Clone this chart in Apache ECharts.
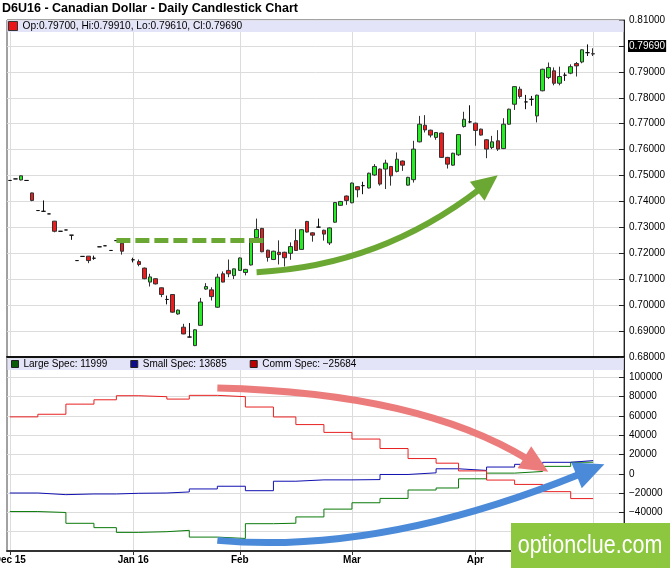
<!DOCTYPE html>
<html><head><meta charset="utf-8">
<script src="https://cdn.jsdelivr.net/npm/echarts@6/dist/echarts.min.js"></script>
<style>html,body{margin:0;padding:0;background:#fff}#c{width:670px;height:568px}</style>
</head><body><div id="c"></div><script>
// ---------- data ----------
const dates = [
'2015-12-01','2015-12-02','2015-12-03','2015-12-04','2015-12-07','2015-12-08','2015-12-09','2015-12-10','2015-12-11','2015-12-14','2015-12-15','2015-12-16','2015-12-17','2015-12-18','2015-12-21','2015-12-22','2015-12-23','2015-12-24','2015-12-28','2015-12-29','2015-12-30','2015-12-31',
'2016-01-04','2016-01-05','2016-01-06','2016-01-07','2016-01-08','2016-01-11','2016-01-12','2016-01-13','2016-01-14','2016-01-15','2016-01-19','2016-01-20','2016-01-21','2016-01-22','2016-01-25','2016-01-26','2016-01-27','2016-01-28','2016-01-29',
'2016-02-01','2016-02-02','2016-02-03','2016-02-04','2016-02-05','2016-02-08','2016-02-09','2016-02-10','2016-02-11','2016-02-12','2016-02-16','2016-02-17','2016-02-18','2016-02-19','2016-02-22','2016-02-23','2016-02-24','2016-02-25','2016-02-26','2016-02-29',
'2016-03-01','2016-03-02','2016-03-03','2016-03-04','2016-03-07','2016-03-08','2016-03-09','2016-03-10','2016-03-11','2016-03-14','2016-03-15','2016-03-16','2016-03-17','2016-03-18','2016-03-21','2016-03-22','2016-03-23','2016-03-24','2016-03-28','2016-03-29','2016-03-30','2016-03-31',
'2016-04-01','2016-04-04','2016-04-05','2016-04-06','2016-04-07','2016-04-08','2016-04-11','2016-04-12','2016-04-13','2016-04-14','2016-04-15','2016-04-18','2016-04-19','2016-04-20','2016-04-21','2016-04-22','2016-04-25','2016-04-26','2016-04-27','2016-04-28','2016-04-29',
'2016-05-02','2016-05-03','2016-05-04','2016-05-05','2016-05-06','2016-05-09'];

// [open, high, low, close] per trading day (null = no trade)
const ohlc = [
[0.7481,0.7482,0.7480,0.7481],[0.7487,0.7487,0.7487,0.7487],[0.7483,0.7500,0.7481,0.7499],[0.7481,0.7481,0.7480,0.7481],
[0.7433,0.7434,0.7401,0.7404],[0.7365,0.7365,0.7365,0.7365],[0.7362,0.7404,0.7360,0.7362],[0.7352,0.7352,0.7352,0.7352],
[0.7324,0.7325,0.7281,0.7285],[0.7285,0.7285,0.7285,0.7285],[0.7290,0.7290,0.7290,0.7290],[0.7270,0.7270,0.7252,0.7270],
[0.7172,0.7172,0.7172,0.7172],[0.7188,0.7188,0.7188,0.7188],[0.7189,0.7189,0.7162,0.7172],[0.7181,0.7191,0.7175,0.7181],
[0.7225,0.7225,0.7225,0.7225],[0.7229,0.7229,0.7229,0.7229],[0.7211,0.7211,0.7211,0.7211],[0.7249,0.7249,0.7249,0.7249],
[0.7239,0.7240,0.7195,0.7208],null,
[0.7175,0.7183,0.7165,0.7175],[0.7168,0.7176,0.7150,0.7157],[0.7143,0.7145,0.7100,0.7102],[0.7089,0.7121,0.7072,0.7109],
[0.7102,0.7104,0.7080,0.7082],[0.7067,0.7068,0.7031,0.7041],[0.7022,0.7037,0.7003,0.7022],[0.7041,0.7043,0.6971,0.6973],
[0.6966,0.6983,0.6963,0.6981],[0.6915,0.6928,0.6888,0.6889],[0.6877,0.6931,0.6876,0.6877],[0.6844,0.6907,0.6842,0.6905],
[0.6922,0.7028,0.6921,0.7012],[0.7062,0.7085,0.7059,0.7072],[0.7059,0.7069,0.7018,0.7033],[0.6992,0.7121,0.6990,0.7108],
[0.7121,0.7130,0.7088,0.7089],[0.7134,0.7176,0.7108,0.7121],[0.7114,0.7141,0.7101,0.7140],
[0.7134,0.7184,0.7132,0.7182],[0.7126,0.7140,0.7115,0.7138],[0.7155,0.7259,0.7153,0.7257],[0.7260,0.7334,0.7258,0.7292],
[0.7296,0.7298,0.7204,0.7206],[0.7212,0.7214,0.7168,0.7184],[0.7176,0.7210,0.7174,0.7208],[0.7204,0.7250,0.7157,0.7195],
[0.7204,0.7206,0.7149,0.7183],[0.7200,0.7242,0.7175,0.7226],[0.7249,0.7294,0.7209,0.7211],[0.7215,0.7293,0.7213,0.7291],
[0.7323,0.7325,0.7280,0.7282],[0.7279,0.7281,0.7245,0.7270],[0.7301,0.7334,0.7299,0.7301],[0.7289,0.7291,0.7249,0.7274],
[0.7240,0.7300,0.7232,0.7298],[0.7320,0.7398,0.7318,0.7396],[0.7385,0.7402,0.7383,0.7400],[0.7421,0.7423,0.7387,0.7404],
[0.7395,0.7473,0.7393,0.7471],[0.7457,0.7459,0.7416,0.7445],[0.7461,0.7476,0.7428,0.7461],[0.7452,0.7511,0.7450,0.7509],
[0.7502,0.7544,0.7499,0.7535],[0.7525,0.7527,0.7461,0.7467],[0.7525,0.7561,0.7448,0.7548],[0.7535,0.7537,0.7461,0.7499],
[0.7516,0.7589,0.7512,0.7563],[0.7556,0.7558,0.7518,0.7540],[0.7463,0.7495,0.7461,0.7493],[0.7484,0.7634,0.7473,0.7602],
[0.7630,0.7730,0.7628,0.7698],[0.7694,0.7733,0.7666,0.7676],[0.7675,0.7677,0.7647,0.7656],[0.7647,0.7668,0.7638,0.7666],
[0.7664,0.7666,0.7568,0.7570],[0.7570,0.7572,0.7527,0.7544],[0.7540,0.7588,0.7538,0.7586],[0.7580,0.7660,0.7576,0.7658],
[0.7689,0.7746,0.7685,0.7717],[0.7707,0.7771,0.7702,0.7707],
[0.7702,0.7704,0.7615,0.7674],[0.7679,0.7681,0.7654,0.7656],[0.7638,0.7640,0.7567,0.7602],[0.7608,0.7653,0.7602,0.7630],
[0.7634,0.7675,0.7595,0.7602],[0.7604,0.7721,0.7602,0.7698],[0.7698,0.7758,0.7696,0.7756],[0.7775,0.7845,0.7753,0.7843],
[0.7833,0.7843,0.7797,0.7805],[0.7784,0.7811,0.7756,0.7784],[0.7794,0.7807,0.7769,0.7794],[0.7730,0.7812,0.7705,0.7810],
[0.7827,0.7912,0.7825,0.7910],[0.7878,0.7936,0.7872,0.7917],[0.7904,0.7917,0.7848,0.7856],[0.7856,0.7920,0.7848,0.7882],
[0.7887,0.7897,0.7865,0.7887],[0.7895,0.7929,0.7891,0.7920],[0.7932,0.7938,0.7882,0.7923],[0.7938,0.7987,0.7933,0.7985],
[0.7974,0.8006,0.7961,0.7974],
[0.79700,0.79910,0.79610,0.79690],null,null,null,null,null];

// weekly COT net positions
const weekDates = ['2015-12-01','2015-12-08','2015-12-15','2015-12-22','2015-12-29','2016-01-05','2016-01-12','2016-01-19','2016-01-26','2016-02-02','2016-02-09','2016-02-16','2016-02-23','2016-03-01','2016-03-08','2016-03-15','2016-03-22','2016-03-29','2016-04-05','2016-04-12','2016-04-19','2016-04-26','2016-05-02'];
const largeSpec = [-39100,-40100,-51300,-55800,-60700,-60000,-58600,-65600,-67000,-51700,-51200,-44700,-36600,-30000,-25500,-16800,-14700,-5200,700,2400,7700,11999,11999];
const smallSpec = [-19900,-21600,-20900,-20900,-20200,-19900,-18800,-15700,-12900,-17500,-7700,-6300,-6300,-6000,-700,1000,5200,3500,7000,9800,11900,13685,13685];
const commSpec  = [59000,61700,72200,76700,80900,79900,77400,81300,79900,69200,58900,51000,42900,36000,26200,15800,11000,3000,-6500,-11000,-18500,-25684,-25684];

const tickDates  = ['2015-12-01','2016-01-04','2016-02-01','2016-03-01','2016-04-01','2016-05-02'];
const tickLabels = ['Dec 15','Jan 16','Feb','Mar','Apr','May'];

// annotation anchors (data space)
const supportLevel = 0.7250, supportFrom = '2015-12-29', supportTo = '2016-02-08';
const greenArrow = {from:['2016-02-04',0.7127], ctrl:['2016-03-08',0.7150], to:['2016-04-07',0.7501]};
const pinkArrow  = {from:['2016-01-26',89000], ctrl:['2016-03-17',84000], to:['2016-04-20',2000]};
const blueArrow  = {from:['2016-01-26',-69000], ctrl:['2016-03-08',-84000], to:['2016-05-04',10000]};

// ---------- chart ----------
const FONT = '"Liberation Sans", Arial, sans-serif';
const G0 = {left:7, right:46, top:20, height:337};
const G1 = {left:7, right:46, top:358, height:193};
const chart = echarts.init(document.getElementById('c'), null, {renderer:'canvas'});

const candleData = ohlc.map(d => d ? [d[0], d[3], d[2], d[1]] : '-');
const last = ohlc.filter(Boolean).slice(-1)[0];
const lastClose = last[3];
const fmt5 = v => v.toFixed(5);
const fmtNum = v => (v < 0 ? '\u2212' : '') + Math.abs(v);
const isTick = v => tickDates.indexOf(v) >= 0;
const tickLabel = v => { const i = tickDates.indexOf(v); return i >= 0 ? tickLabels[i] : ''; };
const lastOf = a => a[a.length - 1];
const specs = {'Large Spec': largeSpec, 'Small Spec': smallSpec, 'Comm Spec': commSpec};
const gridBase = {show: true, borderColor: '#444', borderWidth: 1, backgroundColor: 'transparent', containLabel: false, outerBoundsMode: 'none'};

const option = {
  animation: false,
  backgroundColor: '#fff',
  textStyle: {fontFamily: FONT},
  title: {text: 'D6U16 - Canadian Dollar - Daily Candlestick Chart', left: 2, top: 2, padding: 0,
    textStyle: {fontSize: 12.5, fontWeight: 'bold', color: '#000', fontFamily: FONT}},
  legend: [
    {left: 8, top: 21, padding: 0, itemWidth: 9, itemHeight: 9, selectedMode: false,
     data: [{name: 'D6U16', icon: 'rect', itemStyle: {color: '#e8141a', borderColor: '#333', borderWidth: 1}}],
     formatter: () => `Op:${fmt5(last[0])}, Hi:${fmt5(last[1])}, Lo:${fmt5(last[2])}, Cl:${fmt5(last[3])}`,
     textStyle: {fontSize: 10.2, color: '#000', fontFamily: FONT}},
    {left: 11, top: 359, padding: 0, itemWidth: 7, itemHeight: 7, itemGap: 23, selectedMode: false,
     data: [
       {name: 'Large Spec', icon: 'rect', itemStyle: {color: '#0b5d0b', borderColor: '#222', borderWidth: 1}},
       {name: 'Small Spec', icon: 'rect', itemStyle: {color: '#0b0b8b', borderColor: '#222', borderWidth: 1}},
       {name: 'Comm Spec', icon: 'rect', itemStyle: {color: '#c00000', borderColor: '#222', borderWidth: 1}}],
     formatter: name => name + ': ' + fmtNum(lastOf(specs[name])),
     textStyle: {fontSize: 10, color: '#000', fontFamily: FONT}}
  ],
  grid: [Object.assign({}, gridBase, G0), Object.assign({}, gridBase, G1)],
  xAxis: [
    {type: 'category', gridIndex: 0, data: dates, boundaryGap: true,
     axisLine: {show: true, onZero: false, lineStyle: {color: '#111', width: 2}},
     axisTick: {show: false}, axisLabel: {show: false},
     splitLine: {show: true, interval: (i, v) => isTick(v), alignWithLabel: true, lineStyle: {color: '#dcdcdc', width: 1}}},
    {type: 'category', gridIndex: 1, data: dates, boundaryGap: true,
     axisLine: {show: true, onZero: false, lineStyle: {color: '#333', width: 2}},
     axisTick: {show: true, interval: (i, v) => isTick(v), alignWithLabel: true, length: 4, lineStyle: {color: '#333'}},
     axisLabel: {show: true, interval: (i, v) => isTick(v), formatter: v => tickLabel(v), fontSize: 10, fontWeight: 'bold', color: '#000', margin: 4, fontFamily: FONT, hideOverlap: false},
     splitLine: {show: true, interval: (i, v) => isTick(v), alignWithLabel: true, lineStyle: {color: '#dcdcdc', width: 1}}}
  ],
  yAxis: [
    {type: 'value', gridIndex: 0, position: 'right', min: 0.68, max: 0.81, interval: 0.01,
     axisLine: {show: true, lineStyle: {color: '#222', width: 1}},
     axisTick: {show: true, inside: true, length: 5, lineStyle: {color: '#222'}},
     axisLabel: {formatter: v => Math.abs(v - lastClose) < 0.005 ? '' : fmt5(v), fontSize: 10, color: '#000', margin: 5, fontFamily: FONT},
     splitLine: {show: true, lineStyle: {color: '#dcdcdc', width: 1}}},
    {type: 'value', gridIndex: 1, position: 'right', min: -80000, max: 120000, interval: 20000,
     axisLine: {show: true, lineStyle: {color: '#222', width: 1}},
     axisTick: {show: true, inside: true, length: 5, lineStyle: {color: '#222'}},
     axisLabel: {formatter: fmtNum, fontSize: 10, color: '#000', margin: 5, showMinLabel: false, showMaxLabel: false, fontFamily: FONT},
     splitLine: {show: true, lineStyle: {color: '#dcdcdc', width: 1}}}
  ],
  series: [
    {name: 'D6U16', type: 'candlestick', xAxisIndex: 0, yAxisIndex: 0, data: candleData, barWidth: 4, clip: false,
     itemStyle: {color: '#22ee22', color0: '#ee1c1c', borderColor: '#333', borderColor0: '#333', borderColorDoji: '#111', borderWidth: 1},
     markLine: {silent: true, symbol: 'none', animation: false, z: 10,
       data: [
         {yAxis: lastClose, lineStyle: {color: 'transparent', width: 0},
          label: {show: true, position: 'end', formatter: fmt5(lastClose), color: '#fff', backgroundColor: '#000',
                  padding: [1, 1], fontSize: 10, distance: 4, fontFamily: FONT}},
         [{coord: [supportFrom, supportLevel], lineStyle: {color: '#6aa833', width: 5, type: [14, 5]}, label: {show: false}},
          {coord: [supportTo, supportLevel]}]
       ]}},
    {name: 'Large Spec', type: 'line', xAxisIndex: 1, yAxisIndex: 1, step: 'end', symbol: 'none',
     lineStyle: {color: '#0a7a0a', width: 1}, data: weekDates.map((d, i) => [d, largeSpec[i]])},
    {name: 'Small Spec', type: 'line', xAxisIndex: 1, yAxisIndex: 1, step: 'end', symbol: 'none',
     lineStyle: {color: '#1010b0', width: 1}, data: weekDates.map((d, i) => [d, smallSpec[i]])},
    {name: 'Comm Spec', type: 'line', xAxisIndex: 1, yAxisIndex: 1, step: 'end', symbol: 'none',
     lineStyle: {color: '#e82020', width: 1}, data: weekDates.map((d, i) => [d, commSpec[i]])}
  ]
};
chart.setOption(option);

// ---------- decorations ----------
function px(g, p) {
  return chart.convertToPixel({gridIndex: g}, [dates.indexOf(p[0]), p[1]]);
}
function arrow(g, a, color, width, headLen, headHalf) {
  const p0 = px(g, a.from), c = px(g, a.ctrl), tip = px(g, a.to);
  let dx = tip[0] - c[0], dy = tip[1] - c[1];
  const L = Math.hypot(dx, dy); dx /= L; dy /= L;
  const base = [tip[0] - dx * headLen, tip[1] - dy * headLen];
  const shaftEnd = [tip[0] - dx * (headLen - 4), tip[1] - dy * (headLen - 4)];
  return [
    {type: 'bezierCurve', z: 50, shape: {x1: p0[0], y1: p0[1], cpx1: c[0], cpy1: c[1], x2: shaftEnd[0], y2: shaftEnd[1]},
     style: {stroke: color, lineWidth: width, fill: 'none'}},
    {type: 'polygon', z: 50, shape: {points: [tip, [base[0] - dy * headHalf, base[1] + dx * headHalf], [base[0] + dy * headHalf, base[1] - dx * headHalf]]},
     style: {fill: color}}
  ];
}
const W = 670 - G0.left - G0.right;
const graphics = [
  {type: 'rect', z: 1, shape: {x: G0.left + 0.5, y: G0.top + 0.5, width: W - 1, height: 11.5}, style: {fill: '#e4e4f8'}},
  {type: 'rect', z: 1, shape: {x: G1.left + 0.5, y: G1.top + 0.5, width: W - 1, height: 11.5}, style: {fill: '#e4e4f8'}},
  ...arrow(0, greenArrow, '#6aa833', 6, 26, 12),
  ...arrow(1, pinkArrow, '#ec7c7c', 7, 28, 13),
  ...arrow(1, blueArrow, '#4a8ad8', 7, 30, 14),
  {type: 'rect', z: 60, shape: {x: 511, y: 523, width: 159, height: 45}, style: {fill: '#8dc63f'}},
  {type: 'text', z: 61, x: 590, y: 546, scaleX: 0.86,
   style: {text: 'optionclue.com', fill: '#fff', font: '25px "Liberation Sans", Arial, sans-serif', align: 'center', verticalAlign: 'middle'}}
];
chart.setOption({graphic: graphics});
</script></body></html>
